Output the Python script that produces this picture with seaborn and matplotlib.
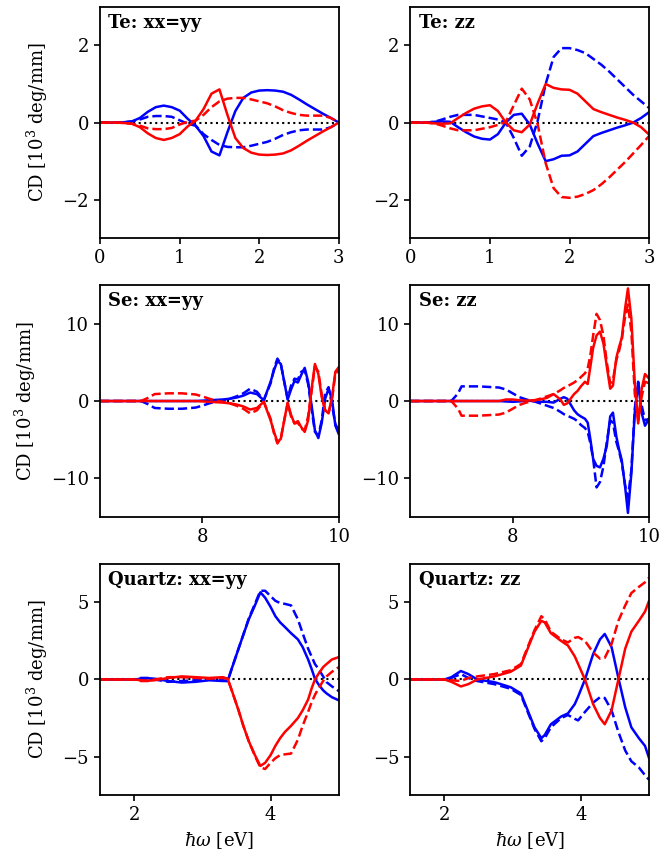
import numpy as np
import pandas as pd
import matplotlib
matplotlib.use("Agg")
import matplotlib.pyplot as plt
import seaborn as sns
from matplotlib.ticker import MultipleLocator

# ---------------- data ----------------
te_x = [0.0, 0.1, 0.2, 0.3, 0.4, 0.5, 0.6, 0.7, 0.8, 0.9, 1.0, 1.1, 1.2, 1.3, 1.4, 1.5,
        1.6, 1.7, 1.8, 1.9, 2.0, 2.1, 2.2, 2.3, 2.4, 2.5, 2.6, 2.7, 2.8, 2.9, 3.0]

te_xx_blue_solid = [0, 0, 0, 0.01, 0.03, 0.12, 0.28, 0.40, 0.44, 0.40, 0.31, 0.10, -0.08, -0.35, -0.75, -0.85,
                    -0.25, 0.30, 0.64, 0.78, 0.83, 0.84, 0.83, 0.80, 0.72, 0.60, 0.47, 0.35, 0.23, 0.12, 0.0]
te_xx_blue_dash = [0, 0, 0, 0.01, 0.03, 0.08, 0.15, 0.17, 0.17, 0.15, 0.06, -0.03, -0.08, -0.30, -0.45, -0.58,
                   -0.63, -0.64, -0.64, -0.60, -0.55, -0.50, -0.42, -0.32, -0.25, -0.20, -0.18, -0.18, -0.18, -0.12, 0.0]
te_xx_red_solid = [0, 0, 0, -0.01, -0.03, -0.12, -0.28, -0.40, -0.45, -0.40, -0.30, -0.10, 0.05, 0.35, 0.75, 0.86,
                   0.20, -0.40, -0.66, -0.78, -0.83, -0.84, -0.83, -0.80, -0.72, -0.60, -0.47, -0.35, -0.23, -0.12, 0.0]
te_xx_red_dash = [0, 0, 0, -0.01, -0.03, -0.08, -0.15, -0.17, -0.17, -0.14, -0.05, 0.02, 0.05, 0.20, 0.40, 0.55,
                  0.62, 0.64, 0.64, 0.60, 0.55, 0.50, 0.42, 0.32, 0.25, 0.20, 0.18, 0.18, 0.18, 0.12, 0.0]

te_zz_blue_solid = [0, 0, 0, 0.02, 0.03, 0.02, -0.12, -0.25, -0.36, -0.42, -0.44, -0.30, 0.0, 0.20, 0.23, -0.05,
                    -0.55, -1.00, -0.95, -0.86, -0.85, -0.75, -0.55, -0.35, -0.27, -0.20, -0.13, -0.07, 0.0, 0.12, 0.27]
te_zz_blue_dash = [0, 0, 0, 0.02, 0.08, 0.15, 0.20, 0.20, 0.20, 0.16, 0.12, 0.08, 0.0, -0.40, -0.86, -0.62,
                   0.05, 1.00, 1.70, 1.93, 1.93, 1.88, 1.80, 1.65, 1.50, 1.32, 1.12, 0.92, 0.72, 0.55, 0.38]
te_zz_red_solid = [0, 0, 0, -0.02, -0.03, -0.02, 0.12, 0.25, 0.36, 0.42, 0.45, 0.30, 0.0, -0.20, -0.25, -0.05,
                   0.50, 1.00, 0.90, 0.86, 0.85, 0.75, 0.55, 0.35, 0.27, 0.20, 0.13, 0.07, 0.0, -0.12, -0.31]
te_zz_red_dash = [0, 0, 0, -0.02, -0.08, -0.15, -0.20, -0.20, -0.20, -0.16, -0.12, -0.06, 0.02, 0.45, 0.88, 0.60,
                  -0.05, -1.05, -1.70, -1.93, -1.95, -1.92, -1.85, -1.75, -1.60, -1.42, -1.22, -1.02, -0.80, -0.58, -0.35]

se_xx_x = [6.5, 6.8, 7.0, 7.1, 7.2, 7.3, 7.5, 7.7, 7.9, 8.0, 8.1, 8.2, 8.3, 8.4, 8.5, 8.6, 8.7, 8.8, 8.9,
           9.0, 9.05, 9.1, 9.15, 9.2, 9.25, 9.3, 9.35, 9.4, 9.45, 9.5, 9.55, 9.6, 9.65, 9.7, 9.75,
           9.8, 9.85, 9.9, 9.95, 10.0]
se_xx_blue_solid = [0, 0, 0, 0, 0, 0, 0, 0, 0, 0.05, 0.1, 0.15, 0.2, 0.3, 0.45, 0.7, 1.1, 0.9, 0.1,
                    2.5, 4.0, 5.2, 4.8, 2.5, 0.2, 1.5, 2.6, 2.4, 3.4, 4.3, 2.5, -0.5, -3.8, -4.8, -2.8,
                    0.3, 1.6, 0.2, -3.2, -4.3]
se_xx_blue_dash = [0, 0, 0, 0, -0.4, -0.9, -1.0, -1.0, -0.85, -0.6, -0.3, -0.05, 0.1, 0.3, 0.6, 1.0, 1.6, 1.2, 0.1,
                   2.3, 4.2, 5.5, 4.8, 2.5, 0.3, 2.0, 2.9, 2.8, 3.8, 4.0, 2.2, -1.0, -4.0, -4.5, -2.5,
                   1.0, 1.8, -0.5, -3.0, -3.8]
se_xx_red_solid = [0, 0, 0, 0, 0, 0, 0, 0, 0, -0.05, -0.1, -0.15, -0.2, -0.3, -0.45, -0.7, -1.1, -0.9, -0.1,
                   -2.5, -4.0, -5.3, -4.9, -2.5, -0.2, -1.8, -2.9, -2.6, -3.4, -4.0, -2.5, 1.5, 4.8, 3.5, 0.5,
                   -1.2, -1.6, 0.5, 3.8, 4.4]
se_xx_red_dash = [0, 0, 0, 0, 0.4, 0.9, 1.0, 1.0, 0.85, 0.6, 0.3, 0.05, -0.1, -0.3, -0.6, -1.0, -1.6, -1.2, -0.1,
                  -2.3, -4.2, -5.5, -4.8, -2.5, -0.3, -2.0, -2.9, -2.8, -3.6, -3.8, -2.0, 1.2, 4.5, 3.8, 0.8,
                  -1.2, -1.5, 0.2, 3.5, 4.0]

se_zz_x = [6.5, 7.0, 7.1, 7.2, 7.25, 7.5, 7.8, 7.9, 8.0, 8.1, 8.2, 8.3, 8.4, 8.5, 8.6, 8.7, 8.75, 8.8,
           8.9, 8.95, 9.0, 9.06, 9.1, 9.14, 9.18, 9.23, 9.28, 9.33, 9.38, 9.43, 9.47, 9.52, 9.56,
           9.6, 9.65, 9.69, 9.74, 9.79, 9.84, 9.89, 9.94, 10.0]
se_zz_blue_solid = [0, 0, 0, 0, 0, 0, 0, -0.05, -0.1, -0.05, 0.05, 0.0, -0.1, -0.1, -0.2, 0.3, 0.5, 0.3,
                    -1.2, -1.7, -2.0, -2.3, -2.8, -5.0, -7.5, -8.4, -8.6, -7.5, -5.8, -2.0, -1.5, -4.6, -6.3,
                    -7.7, -11.2, -14.5, -9.4, -1.5, 2.4, -1.5, -3.2, -2.3]
se_zz_blue_dash = [0, 0, 0, 1.0, 1.9, 1.9, 1.75, 1.5, 1.0, 0.5, 0.2, 0.0, -0.3, -0.6, -0.9, -1.4, -1.7, -1.9,
                   -2.3, -2.6, -3.1, -3.5, -4.0, -5.5, -7.5, -11.2, -10.5, -8.5, -5.3, -2.5, -2.8, -5.3, -6.5,
                   -8.0, -11.0, -12.5, -9.0, -1.0, 2.5, -0.5, -2.5, -2.3]
se_zz_red_solid = [0, 0, 0, 0, 0, 0, 0, 0.2, 0.2, 0.1, 0.05, 0.1, 0.2, 0.4, 0.9, 0.2, -0.5, -0.3,
                   0.9, 1.3, 1.9, 2.5, 2.2, 4.5, 6.9, 8.5, 9.0, 7.5, 4.5, 1.6, 2.0, 5.6, 7.0,
                   8.2, 12.1, 14.6, 10.7, 2.4, -2.9, 1.5, 3.5, 2.9]
se_zz_red_dash = [0, 0, 0, -1.0, -1.9, -1.9, -1.75, -1.5, -1.0, -0.5, -0.2, 0.0, 0.3, 0.6, 0.9, 1.4, 1.7, 1.9,
                  2.4, 2.7, 3.1, 3.6, 4.2, 6.0, 8.5, 11.3, 10.5, 8.5, 5.0, 2.3, 2.7, 5.3, 6.5,
                  8.0, 11.0, 12.5, 9.0, 1.0, -2.5, 0.5, 2.5, 2.3]

qz_xx_x = [1.5, 2.0, 2.1, 2.2, 2.3, 2.5, 2.7, 2.9, 3.1, 3.3, 3.37, 3.43, 3.53, 3.6, 3.68, 3.77, 3.85,
           3.92, 4.0, 4.07, 4.14, 4.21, 4.3, 4.4, 4.47, 4.55, 4.6, 4.65, 4.7, 4.77, 4.82, 4.9, 5.0]
qz_xx_blue_solid = [0, 0, 0.05, 0.08, 0.05, -0.1, -0.2, -0.15, -0.05, -0.1, -0.1, 0.7, 2.0, 2.9, 3.9, 4.8, 5.65,
                    5.3, 4.7, 4.1, 3.7, 3.4, 3.0, 2.6, 2.1, 1.3, 0.7, 0.05, -0.3, -0.7, -0.9, -1.15, -1.35]
qz_xx_blue_dash = [0, 0, 0.1, 0.1, 0.0, -0.15, -0.1, -0.05, 0.0, -0.05, -0.1, 0.7, 2.0, 2.9, 3.95, 4.9, 5.75,
                   5.75, 5.4, 5.1, 4.95, 4.9, 4.8, 3.9, 3.0, 2.0, 1.5, 1.0, 0.7, 0.2, -0.17, -0.45, -0.75]
qz_xx_red_solid = [0, 0, -0.05, -0.08, -0.05, 0.1, 0.2, 0.15, 0.1, 0.15, 0.05, -0.7, -2.0, -3.0, -4.0, -4.9, -5.6,
                   -5.4, -4.9, -4.3, -3.8, -3.4, -3.0, -2.5, -2.0, -1.3, -0.6, 0.0, 0.35, 0.8, 1.0, 1.3, 1.45]
qz_xx_red_dash = [0, 0, -0.1, -0.1, 0.0, 0.15, 0.15, 0.1, 0.05, 0.1, 0.05, -0.7, -2.0, -3.0, -4.0, -4.95, -5.7,
                  -5.8, -5.4, -5.1, -4.9, -4.85, -4.8, -3.9, -3.0, -2.1, -1.5, -1.0, -0.6, -0.1, 0.2, 0.5, 0.8]

qz_zz_x = [1.5, 2.0, 2.1, 2.24, 2.35, 2.48, 2.73, 2.97, 3.12, 3.22, 3.32, 3.42, 3.47, 3.56, 3.71, 3.81,
           3.91, 3.96, 4.06, 4.18, 4.28, 4.35, 4.45, 4.55, 4.65, 4.74, 4.85, 4.94, 5.0]
qz_zz_blue_solid = [0, 0, 0.15, 0.55, 0.35, 0.0, -0.17, -0.5, -0.9, -2.0, -3.1, -3.8, -3.6, -2.9, -2.4, -2.2,
                    -1.6, -1.1, 0.0, 1.65, 2.6, 2.95, 2.1, 0.1, -1.8, -3.1, -3.8, -4.3, -5.1]
qz_zz_blue_dash = [0, 0, 0.1, 0.35, 0.1, -0.1, -0.3, -0.6, -1.0, -2.1, -3.2, -4.0, -3.8, -3.1, -2.5, -2.3,
                   -2.55, -2.65, -2.1, -1.5, -1.15, -1.2, -2.0, -3.4, -4.6, -5.3, -5.7, -6.2, -6.5]
qz_zz_red_solid = [0, 0, -0.15, -0.45, -0.3, 0.0, 0.2, 0.5, 0.9, 2.0, 3.1, 3.8, 3.7, 3.0, 2.5, 2.2,
                   1.5, 1.0, 0.0, -1.6, -2.5, -2.9, -2.0, 0.0, 2.0, 3.1, 3.8, 4.4, 5.1]
qz_zz_red_dash = [0, 0, -0.05, -0.1, 0.1, 0.2, 0.35, 0.6, 1.0, 2.1, 3.2, 4.1, 3.9, 3.1, 2.6, 2.4,
                  2.7, 2.75, 2.5, 1.75, 1.35, 1.4, 2.3, 3.8, 4.8, 5.6, 6.0, 6.3, 6.6]

panel_titles = ["Te: xx=yy", "Te: zz", "Se: xx=yy", "Se: zz", "Quartz: xx=yy", "Quartz: zz"]
ylabel_text = r"CD [10$^3$ deg/mm]"
xlabel_text = r"$\hbar\omega$ [eV]"

panels = [
    (te_x, te_xx_blue_solid, te_xx_blue_dash, te_xx_red_solid, te_xx_red_dash),
    (te_x, te_zz_blue_solid, te_zz_blue_dash, te_zz_red_solid, te_zz_red_dash),
    (se_xx_x, se_xx_blue_solid, se_xx_blue_dash, se_xx_red_solid, se_xx_red_dash),
    (se_zz_x, se_zz_blue_solid, se_zz_blue_dash, se_zz_red_solid, se_zz_red_dash),
    (qz_xx_x, qz_xx_blue_solid, qz_xx_blue_dash, qz_xx_red_solid, qz_xx_red_dash),
    (qz_zz_x, qz_zz_blue_solid, qz_zz_blue_dash, qz_zz_red_solid, qz_zz_red_dash),
]
row_xlim = [(0, 3), (6.5, 10), (1.5, 5)]
row_ylim = [(-3, 3), (-15, 15), (-7.5, 7.5)]
row_xstep = [1, 2, 2]
row_ystep = [2, 10, 5]

# ---------------- style ----------------
sns.set_theme(style="ticks")
plt.rcParams.update({
    "font.family": ["DejaVu Serif"],
    "mathtext.fontset": "dejavuserif",
    "font.size": 13,
    "axes.labelsize": 13,
    "xtick.labelsize": 13,
    "ytick.labelsize": 13,
    "axes.linewidth": 1.3,
    "axes.edgecolor": "black",
    "xtick.major.width": 1.2,
    "ytick.major.width": 1.2,
    "xtick.major.size": 4.5,
    "ytick.major.size": 4.5,
    "xtick.color": "black",
    "ytick.color": "black",
    "text.color": "black",
    "axes.labelcolor": "black",
})

fig, axes = plt.subplots(3, 2, figsize=(6.63, 8.56), dpi=100)
fig.subplots_adjust(left=0.151, right=0.979, top=0.992, bottom=0.071, wspace=0.30, hspace=0.203)

for i, ax in enumerate(axes.flat):
    r, c = divmod(i, 2)
    x, bs, bd, rs, rd = panels[i]
    ax.axhline(0, color="black", linestyle=":", linewidth=1.5, zorder=1)
    for y, col, ls in [(bs, "blue", "-"), (bd, "blue", "--"), (rs, "red", "-"), (rd, "red", "--")]:
        df = pd.DataFrame({"x": x, "y": y})
        sns.lineplot(data=df, x="x", y="y", color=col, linestyle=ls, linewidth=1.8,
                     estimator=None, sort=False, ax=ax, zorder=2)
    ax.set_xlim(*row_xlim[r])
    ax.set_ylim(*row_ylim[r])
    ax.xaxis.set_major_locator(MultipleLocator(row_xstep[r]))
    ax.yaxis.set_major_locator(MultipleLocator(row_ystep[r]))
    ax.text(0.035, 0.97, panel_titles[i], transform=ax.transAxes, ha="left", va="top",
            fontweight="bold", fontsize=13, color="black")
    ax.set_ylabel(ylabel_text if c == 0 else "", labelpad=9)
    ax.set_xlabel(xlabel_text if r == 2 else "", labelpad=4)
    for s in ax.spines.values():
        s.set_visible(True)

fig.savefig("out.png", dpi=100)
